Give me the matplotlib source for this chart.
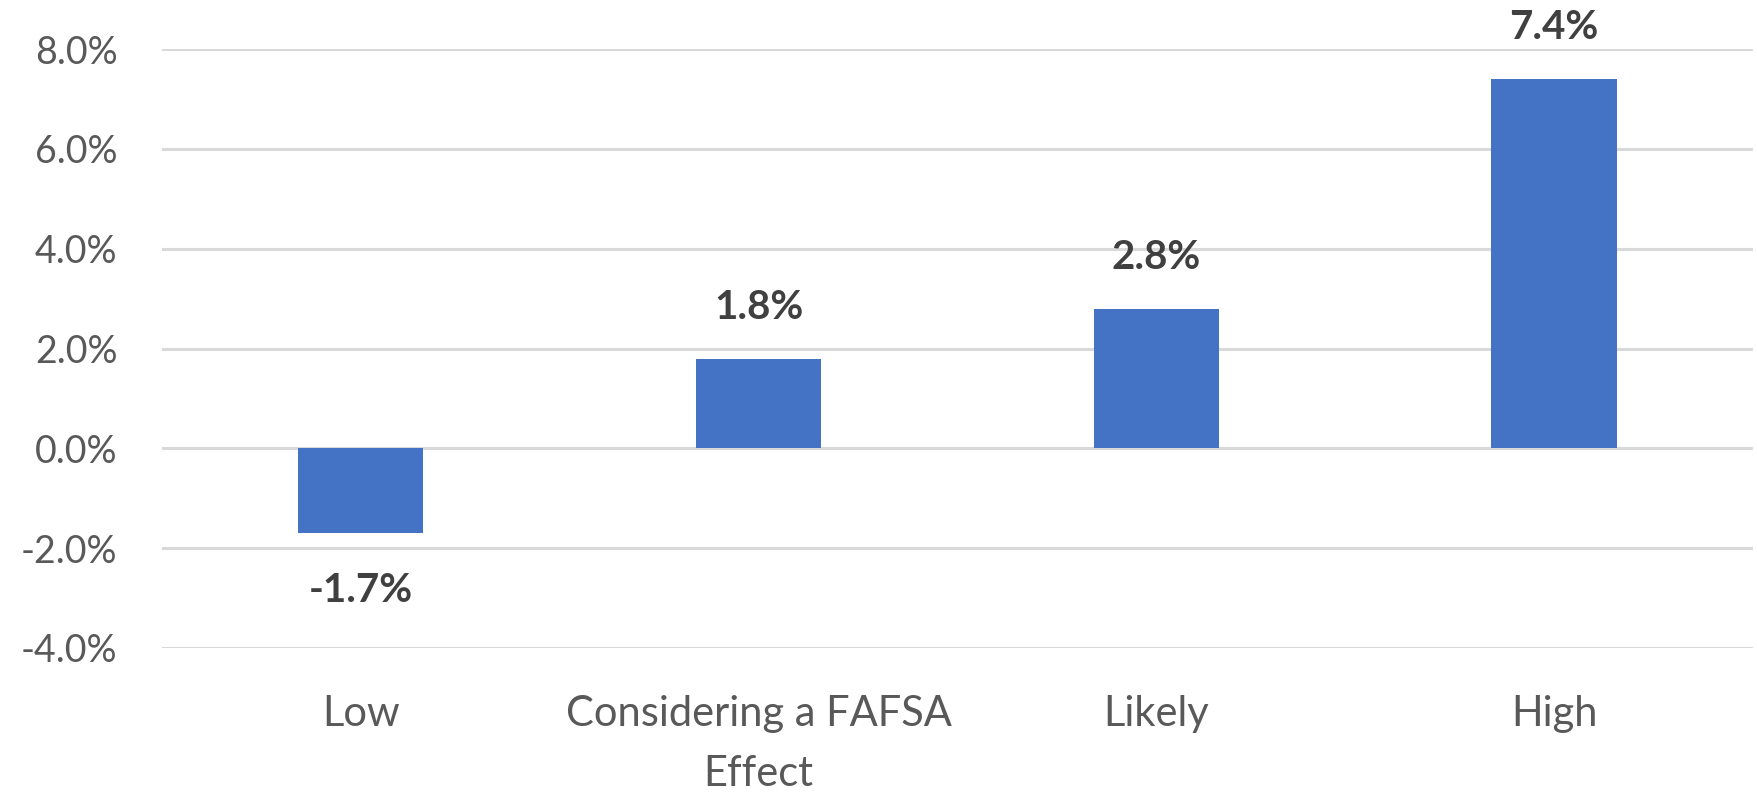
import numpy as np
import matplotlib.pyplot as plt
from matplotlib.ticker import FuncFormatter

# data
categories = ["Low", "Considering a FAFSA\nEffect", "Likely", "High"]
values = [-1.7, 1.8, 2.8, 7.4]
y_ticks = [-4, -2, 0, 2, 4, 6, 8]

plt.rcParams['font.family'] = ['Lato', 'DejaVu Sans']

fig = plt.figure(figsize=(17.58, 7.98), dpi=100)
ax = fig.add_axes([0.0921, 0.188, 0.905, 0.7505])

x = np.arange(len(categories))
ax.bar(x, values, width=0.315, color='#4472C4', zorder=3)

# value labels
for xi, v in zip(x, values):
    off = 37 if v >= 0 else -41
    ax.annotate(f"{v:.1f}%", (xi, v), xytext=(0, off), textcoords='offset points',
                ha='center', va='center', fontsize=29, fontweight='bold', color='#404040')

ax.set_xlim(-0.5, len(categories) - 0.5)
ax.set_ylim(-4, 8)
ax.set_yticks(y_ticks)
ax.yaxis.set_major_formatter(FuncFormatter(lambda v, p: f"{v:.1f}%"))
ax.set_xticks(x)
ax.set_xticklabels(categories, linespacing=1.7)

ax.grid(axis='y', color='#d9d9d9', linewidth=2.2, zorder=0)
ax.tick_params(axis='y', length=0, labelsize=27, labelcolor='#595959', pad=32)
ax.tick_params(axis='x', length=0, labelsize=30, labelcolor='#595959', pad=34)
for s in ax.spines.values():
    s.set_visible(False)

fig.savefig('out.png', dpi=100)
